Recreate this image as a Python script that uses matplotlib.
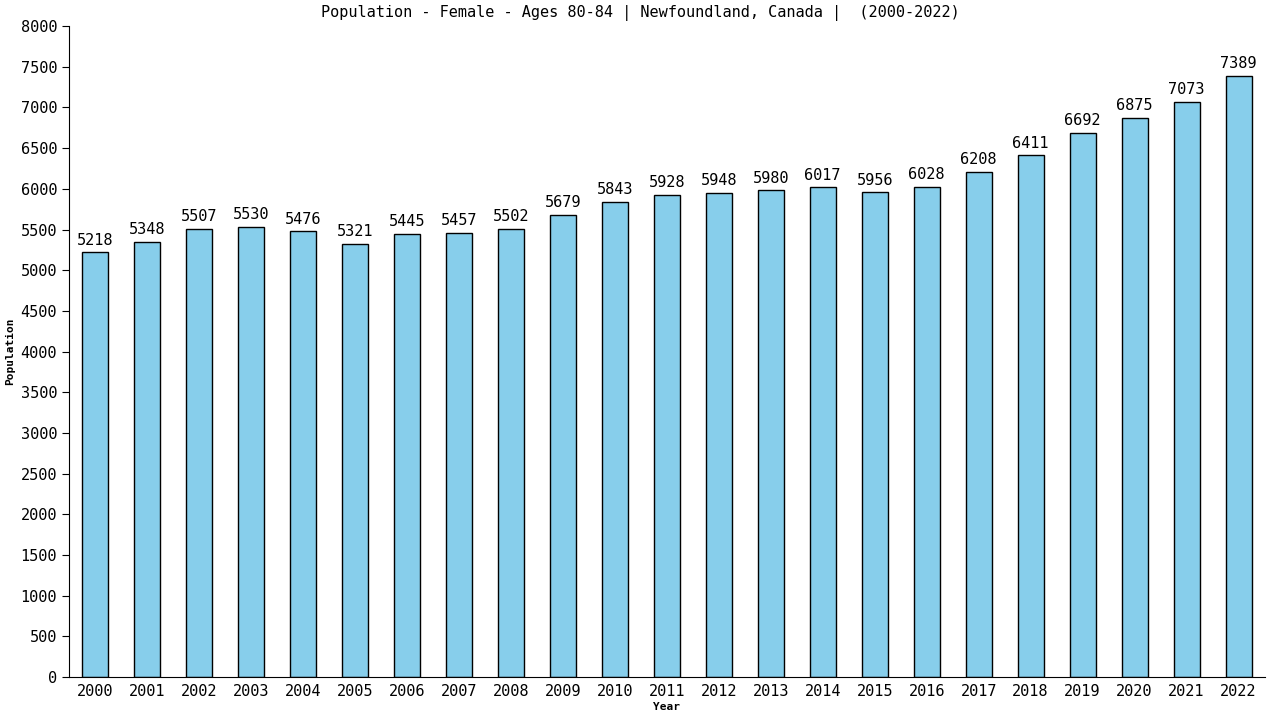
import numpy as np
import matplotlib.pyplot as plt

years = [str(y) for y in range(2000, 2023)]
population = [5218, 5348, 5507, 5530, 5476, 5321, 5445, 5457, 5502, 5679, 5843, 5928,
              5948, 5980, 6017, 5956, 6028, 6208, 6411, 6692, 6875, 7073, 7389]

plt.rcParams['font.family'] = ['DejaVu Sans Mono']

fig = plt.figure(figsize=(12.8, 7.2), dpi=100)
ax = fig.add_axes([0.0539, 0.0597, 0.934, 0.904])

x = np.arange(len(years))
ax.bar(x, population, width=0.5, color='#87ceeb', edgecolor='black', linewidth=1)

for xi, v in zip(x, population):
    ax.text(xi, v + 60, str(v), ha='center', va='bottom', fontsize=11)

ax.set_xlim(-0.5, len(years) - 0.5)
ax.set_ylim(0, 8000)
ax.set_yticks(np.arange(0, 8001, 500))
ax.set_xticks(x)
ax.set_xticklabels(years)
ax.tick_params(axis='y', labelsize=11, length=5)
ax.tick_params(axis='x', labelsize=11, length=0, pad=5)

ax.spines['top'].set_visible(False)
ax.spines['right'].set_visible(False)

fig.text(0.5, 0.982, "Population - Female - Ages 80-84 | Newfoundland, Canada |  (2000-2022)",
         ha='center', va='center', fontsize=11)
ax.set_xlabel("Year", fontsize=8, fontweight='bold', labelpad=2)
ax.set_ylabel("Population", fontsize=8, fontweight='bold', labelpad=4)

fig.savefig("out.png")
